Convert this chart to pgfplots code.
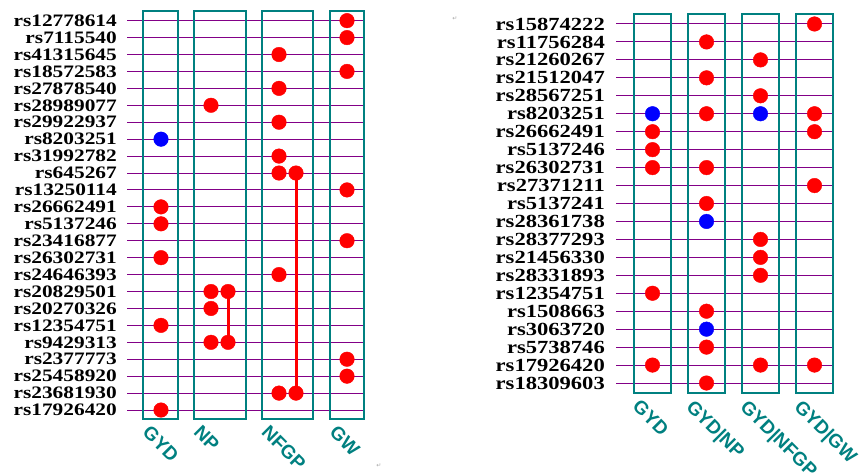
\documentclass[border=0pt]{standalone}
\usepackage{fontspec}
\setmainfont{Liberation Serif}
\newfontfamily\labfont{Liberation Serif}[FakeStretch=1.22]
\newfontfamily\xfont{Liberation Sans}
\newfontfamily\symfont{DejaVu Sans}
\usepackage{pgfplots}
\pgfplotsset{compat=1.18}
\definecolor{boxteal}{RGB}{0,128,128}
\definecolor{rowpurple}{RGB}{130,0,135}
\definecolor{dotred}{RGB}{255,0,0}
\definecolor{dotblue}{RGB}{0,0,255}
\pgfplotsset{panel/.style={
  scale only axis, clip=false, y dir=reverse,
  axis line style={draw=none}, major tick length=0pt,
  ymajorgrids, grid style={rowpurple, line width=1pt},
  yticklabel style={anchor=east, inner sep=0pt, xshift=-10pt},
  xticklabel style={font=\xfont\bfseries\fontsize{19}{20}\selectfont, text=boxteal, yshift=-5pt, rotate=-45, anchor=north west, inner sep=0pt},
  reddot/.style={only marks, mark=*, mark size=7.3pt, color=dotred},
  bluedot/.style={only marks, mark=*, mark size=7.3pt, color=dotblue},
}}
\begin{document}
\begin{tikzpicture}
\useasboundingbox (0,0) rectangle (866pt,473pt);
% ---------- left panel ----------
\begin{axis}[panel, at={(127pt,54pt)}, anchor=south west,
  width=238pt, height=408pt,
  xmin=127, xmax=365, ymin=-0.57, ymax=23.53,
  ytick={0,...,23},
  yticklabel style={font=\labfont\bfseries\fontsize{17.5}{18}\selectfont},
  yticklabels={rs12778614,rs7115540,rs41315645,rs18572583,rs27878540,rs28989077,rs29922937,rs8203251,rs31992782,rs645267,rs13250114,rs26662491,rs5137246,rs23416877,rs26302731,rs24646393,rs20829501,rs20270326,rs12354751,rs9429313,rs2377773,rs25458920,rs23681930,rs17926420},
  xtick={151,202,270,338},
  xticklabels={GYD,NP,NFGP,GW},
]
\draw[boxteal, line width=2.3pt] (axis cs:143,-0.57) rectangle (axis cs:178,23.53);
\draw[boxteal, line width=2.3pt] (axis cs:194,-0.57) rectangle (axis cs:246,23.53);
\draw[boxteal, line width=2.3pt] (axis cs:262,-0.57) rectangle (axis cs:313,23.53);
\draw[boxteal, line width=2.3pt] (axis cs:330,-0.57) rectangle (axis cs:364,23.53);
\addplot[dotred, line width=3pt] coordinates {(228,16) (228,19)};
\addplot[dotred, line width=3pt] coordinates {(296,9) (296,22)};
\addplot[reddot] coordinates {
 (347,0) (347,1) (279,2) (347,3) (279,4) (211,5) (279,6) (279,8)
 (279,9) (296,9) (347,10) (161,11) (161,12) (347,13) (161,14) (279,15)
 (211,16) (228,16) (211,17) (161,18) (211,19) (228,19) (347,20) (347,21)
 (279,22) (296,22) (161,23)};
\addplot[bluedot] coordinates {(161,7)};
\end{axis}
% ---------- right panel ----------
\begin{axis}[panel, at={(616pt,80pt)}, anchor=south west,
  width=217pt, height=379pt,
  xmin=616, xmax=833, ymin=-0.557, ymax=20.557,
  ytick={0,...,20},
  yticklabel style={font=\labfont\bfseries\fontsize{18.5}{19}\selectfont, xshift=-1pt},
  yticklabels={rs15874222,rs11756284,rs21260267,rs21512047,rs28567251,rs8203251,rs26662491,rs5137246,rs26302731,rs27371211,rs5137241,rs28361738,rs28377293,rs21456330,rs28331893,rs12354751,rs1508663,rs3063720,rs5738746,rs17926420,rs18309603},
  xtick={641,695,749,803},
  xticklabels={GYD,GYD|NP,GYD|NFGP,GYD|GW},
]
\draw[boxteal, line width=2.3pt] (axis cs:634,-0.557) rectangle (axis cs:671,20.557);
\draw[boxteal, line width=2.3pt] (axis cs:688,-0.557) rectangle (axis cs:725,20.557);
\draw[boxteal, line width=2.3pt] (axis cs:742,-0.557) rectangle (axis cs:779,20.557);
\draw[boxteal, line width=2.3pt] (axis cs:796,-0.557) rectangle (axis cs:833,20.557);
\addplot[reddot] coordinates {
 (814.5,0) (706.5,1) (760.5,2) (706.5,3) (760.5,4) (706.5,5) (814.5,5)
 (652.5,6) (814.5,6) (652.5,7) (652.5,8) (706.5,8) (814.5,9) (706.5,10)
 (760.5,12) (760.5,13) (760.5,14) (652.5,15) (706.5,16) (706.5,18)
 (652.5,19) (760.5,19) (814.5,19) (706.5,20)};
\addplot[bluedot] coordinates {(652.5,5) (760.5,5) (706.5,11) (706.5,17)};
\end{axis}
\node[font=\symfont\fontsize{6}{6}\selectfont, text=black!35] at (455pt,454pt) {↵};
\node[font=\symfont\fontsize{6}{6}\selectfont, text=black!35] at (379pt,7pt) {↵};
\end{tikzpicture}
\end{document}
